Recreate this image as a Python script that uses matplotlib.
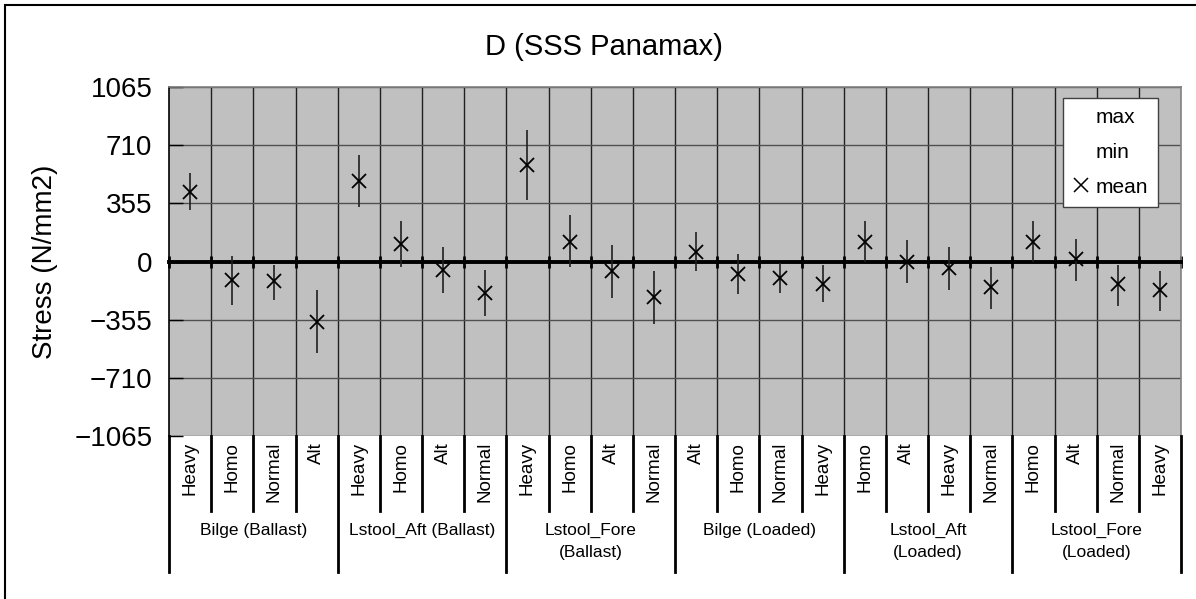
import matplotlib
matplotlib.use("Agg")
import matplotlib.pyplot as plt
from matplotlib.lines import Line2D
from matplotlib.patches import Rectangle
import numpy as np

plt.rcParams['font.family'] = ['Liberation Sans', 'DejaVu Sans']

## Data
groups = ["Bilge (Ballast)", "Lstool_Aft (Ballast)", "Lstool_Fore\n(Ballast)",
          "Bilge (Loaded)", "Lstool_Aft\n(Loaded)", "Lstool_Fore\n(Loaded)"]
cases = ["Heavy", "Homo", "Normal", "Alt",
         "Heavy", "Homo", "Alt", "Normal",
         "Heavy", "Homo", "Alt", "Normal",
         "Alt", "Homo", "Normal", "Heavy",
         "Homo", "Alt", "Heavy", "Normal",
         "Homo", "Alt", "Normal", "Heavy"]
mean_vals = [425, -112, -122, -371,
             490, 106, -51, -190,
             588, 119, -61, -214,
             61, -75, -102, -136,
             116, 0, -41, -153,
             122, 16, -136, -173]
max_vals = [541, 31, -20, -173,
            647, 245, 88, -51,
            802, 286, 98, -57,
            180, 47, -10, -20,
            245, 129, 88, -31,
            245, 137, -20, -55]
min_vals = [316, -265, -234, -561,
            333, -31, -190, -330,
            373, -34, -224, -381,
            -55, -200, -190, -245,
            -6, -132, -173, -291,
            -6, -118, -271, -302]
yticks = [-1065, -710, -355, 0, 355, 710, 1065]

W, H = 1196, 599
fig = plt.figure(figsize=(W / 100, H / 100), dpi=100)

# outer chart frame (only left/top edges fall inside the picture)
fig.patches.append(Rectangle((5 / W, -0.1), 1.2, 1 - 5 / H + 0.1,
                             transform=fig.transFigure, fill=False,
                             edgecolor='black', lw=1.5))

left, right, top, bottom = 169, 1181, 87, 436
ax = fig.add_axes([left / W, 1 - bottom / H, (right - left) / W, (bottom - top) / H])
ax.set_facecolor('#c0c0c0')

n = len(cases)
x = np.arange(n)
bounds = np.arange(n + 1) - 0.5

ax.set_xlim(-0.5, n - 0.5)
ax.set_ylim(-1065, 1065)
ax.set_yticks(yticks)
ax.set_yticklabels([str(t).replace('-', '\u2212') for t in yticks], fontsize=20)
ax.tick_params(axis='y', direction='in', length=10, width=1, pad=12)

for b in bounds[1:-1]:
    ax.axvline(b, color='#202020', lw=1, zorder=1)
for t in yticks:
    ax.axhline(t, color='#505050', lw=1, zorder=1)

# category axis crossing at zero
ax.spines['bottom'].set_position(('data', 0))
ax.spines['bottom'].set_linewidth(2.8)
ax.set_xticks(bounds)
ax.set_xticklabels([])
ax.tick_params(axis='x', direction='inout', length=8, width=2)
ax.spines['left'].set_linewidth(1.2)
for s in ['top', 'right']:
    ax.spines[s].set_color('#808080')
    ax.spines[s].set_linewidth(1.2)

# min-max bars and mean markers
ax.vlines(x, min_vals, max_vals, color='#202020', lw=1.2, zorder=3)
ax.plot(x, mean_vals, linestyle='none', marker='x', color='black',
        markersize=10, mew=1.3, zorder=4)

ax.set_ylabel("Stress (N/mm2)", fontsize=20, labelpad=12)
fig.suptitle("D (SSS Panamax)", fontsize=21, x=0.505, y=1 - 33 / H, va='top')

handles = [Line2D([], [], linestyle='none', marker='None'),
           Line2D([], [], linestyle='none', marker='None'),
           Line2D([], [], linestyle='none', marker='x', color='black',
                  markersize=10, mew=1.1)]
leg = ax.legend(handles, ["max", "min", "mean"], loc='upper right',
                bbox_to_anchor=((1158 - left) / (right - left), (bottom - 98) / (bottom - top)),
                borderaxespad=0, fontsize=15, fancybox=False, framealpha=1,
                edgecolor='#404040', handlelength=0.7, handletextpad=0.35,
                labelspacing=0.75, borderpad=0.5)
leg.get_frame().set_linewidth(1)

# category table under the plot
tab_bottom = 572
ax2 = fig.add_axes([left / W, 1 - tab_bottom / H, (right - left) / W, (tab_bottom - bottom) / H])
ax2.set_xlim(-0.5, n - 0.5)
ax2.set_ylim(0, 1)
ax2.axis('off')
inner_y = (tab_bottom - 511) / (tab_bottom - bottom)
for i, b in enumerate(bounds):
    y0 = 0 if i % 4 == 0 else inner_y
    ax2.plot([b, b], [y0, 1], color='black', lw=2, clip_on=False)
for i, c in enumerate(cases):
    ax2.text(i, 1 - 6 / (tab_bottom - bottom), c, rotation=90, ha='center', va='top',
             fontsize=13.5)
for g, name in enumerate(groups):
    ax2.text(4 * g + 1.5, inner_y - 12 / (tab_bottom - bottom), name, ha='center', va='top',
             fontsize=12.5, linespacing=1.55)

fig.savefig("out.png", dpi=100)
